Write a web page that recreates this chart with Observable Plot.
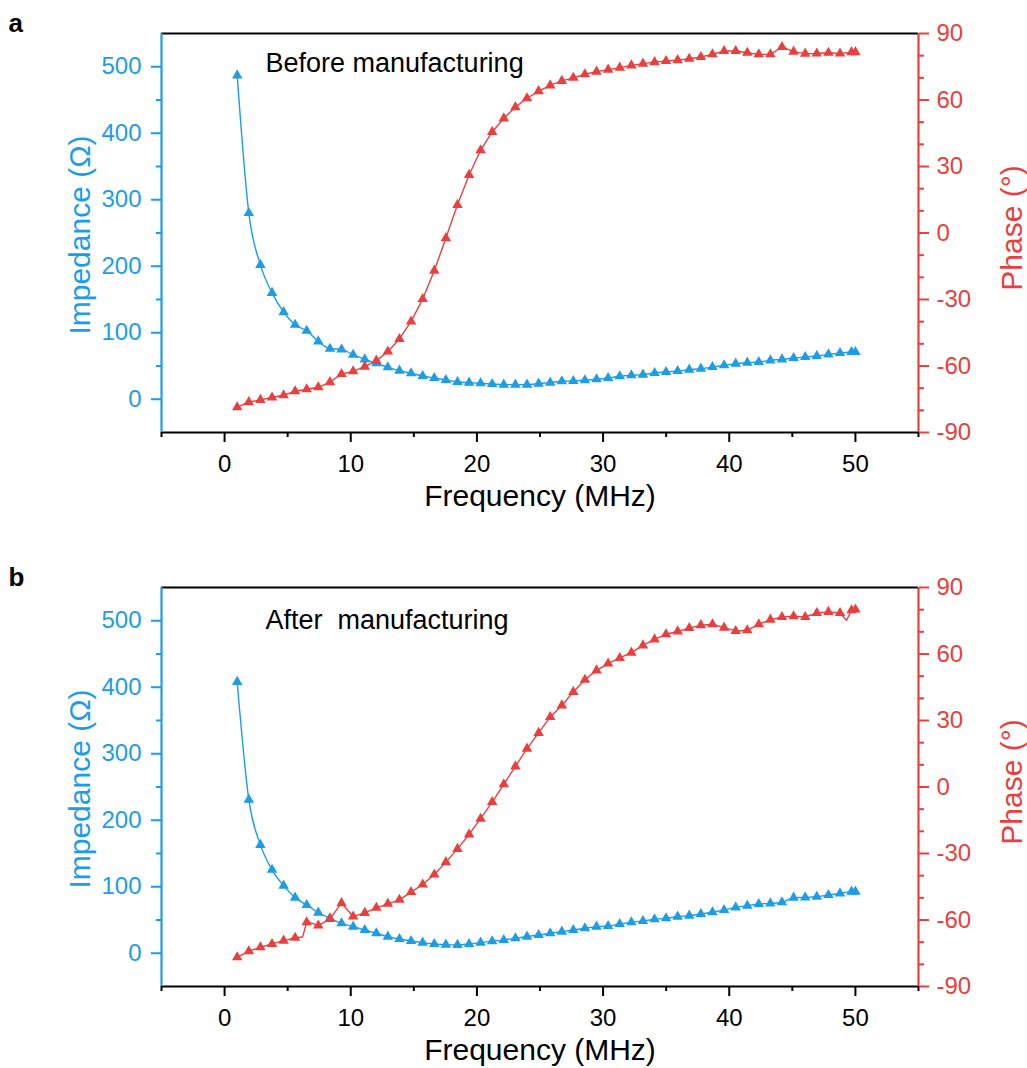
<!DOCTYPE html>
<html>
<head>
<meta charset="utf-8">
<script src="https://cdn.jsdelivr.net/npm/d3@7"></script>
<script src="https://cdn.jsdelivr.net/npm/@observablehq/plot@0.6"></script>
<style>
  html, body { margin: 0; padding: 0; background: #fff; }
  #chart svg { display: block; }
</style>
</head>
<body>
<div id="chart"></div>
<script>
// Sweep frequencies at the plotted markers (MHz)
const frequency = [1.00, 1.92, 2.84, 3.76, 4.68, 5.59, 6.51, 7.43, 8.35, 9.27,
  10.19, 11.11, 12.03, 12.94, 13.86, 14.78, 15.70, 16.62, 17.54, 18.46,
  19.38, 20.29, 21.21, 22.13, 23.05, 23.97, 24.89, 25.81, 26.73, 27.64,
  28.56, 29.48, 30.40, 31.32, 32.24, 33.16, 34.08, 34.99, 35.91, 36.83,
  37.75, 38.67, 39.59, 40.51, 41.43, 42.34, 43.26, 44.18, 45.10, 46.02,
  46.94, 47.86, 48.78, 49.69, 50.00];

// (a) before manufacturing
const impedanceBefore = [487, 280, 202, 160, 131, 112, 103, 87, 76, 75,
  67, 60, 54, 48, 43, 39, 35, 32, 29, 26,
  25, 24, 23, 22, 22, 22, 23.5, 25, 27, 27.5,
  28.5, 30, 32, 34.5, 36, 37, 39.5, 41, 42.5, 44.5,
  46, 48.5, 51, 53.5, 55, 56, 58.5, 60, 62, 63.5,
  65, 67.5, 69.5, 71, 71];
const phaseBefore = [-78.6, -76.3, -75.3, -74.2, -73.2, -71.4, -70.5, -69.6, -67.3, -63.6,
  -62.4, -60.3, -57.6, -53.5, -47.8, -39.9, -29.8, -17.0, -2.3, 12.7,
  26.2, 37.3, 45.6, 51.7, 56.8, 60.8, 64.0, 66.6, 68.6, 70.0,
  71.6, 72.8, 73.7, 74.6, 75.6, 76.4, 77.1, 77.6, 78.0, 78.6,
  79.4, 80.6, 82.1, 82.1, 81.3, 80.6, 80.6, 83.9, 81.8, 80.9,
  81.0, 81.3, 81.0, 81.6, 81.6];

// (b) after manufacturing
const impedanceAfter = [408, 231, 163, 125.5, 101.7, 83.6, 72.6, 61, 52.6, 45,
  40, 35, 30, 25, 21.5, 18.5, 16, 14, 13, 12.5,
  14, 16, 18, 20, 22.5, 25, 27.5, 30, 32.5, 35,
  37.5, 40, 41, 44, 46.5, 48.5, 51, 52.5, 55, 56.5,
  59, 61.6, 65, 69, 71.6, 74, 75, 76.6, 83.6, 84,
  85, 87.6, 90, 92.6, 92.6];
const phaseAfter = [-76.8, -74.1, -72.3, -70.8, -69.3, -68.0, -61.0, -62.5, -59.5, -52.4,
  -58.4, -56.8, -54.5, -52.7, -50.9, -47.4, -44.0, -39.5, -33.9, -27.9,
  -21.4, -14.3, -6.8, 1.2, 9.3, 17.3, 24.4, 31.6, 36.8, 42.9,
  48.4, 52.6, 55.7, 58.2, 60.6, 63.9, 66.6, 68.9, 70.2, 71.7,
  73.0, 73.4, 71.9, 70.4, 70.7, 73.4, 75.5, 76.7, 77.0, 76.7,
  78.5, 79.0, 78.5, 79.7, 80.1];
// sweep samples between markers where the phase trace steps or dips
const phaseAfterExtraFreq = [6.18, 6.90, 49.30];
const phaseAfterExtra = [-67.7, -61.4, 75.2];

// Axis ticks
const frequencyTicks = [0, 10, 20, 30, 40, 50];
const frequencyMinor = [-5, 5, 15, 25, 35, 45, 55];
const impedanceTicks = [0, 100, 200, 300, 400, 500];
const impedanceMinor = [50, 150, 250, 350, 450];
const phaseTicks = [-90, -60, -30, 0, 30, 60, 90];
const phaseMinor = [-80, -70, -50, -40, -20, -10, 10, 20, 40, 50, 70, 80];

const BLUE = "#1d9de5";
const RED = "#e8403e";
const FONT = "'Liberation Sans', Arial, Helvetica, sans-serif";

const zDomain = [-50, 550];
const pDomain = [-90, 90];
// the phase shares the plot's y scale through a linear map onto the impedance range
const phaseToZ = p => zDomain[0] + (p - pDomain[0]) / (pDomain[1] - pDomain[0]) * (zDomain[1] - zDomain[0]);
const zToPhase = z => pDomain[0] + (z - zDomain[0]) / (zDomain[1] - zDomain[0]) * (pDomain[1] - pDomain[0]);

function panel({impedance, phase, extraF = [], extraP = [], note, noteDy, letter, height, marginTop, marginBottom}) {
  const zRows = frequency.map((f, i) => ({f, v: impedance[i]}));
  const pRows = frequency.map((f, i) => ({f, v: phaseToZ(phase[i])}));
  const pLine = pRows.concat(extraF.map((f, i) => ({f, v: phaseToZ(extraP[i])})))
    .sort((a, b) => a.f - b.f);

  return Plot.plot({
    width: 1027,
    height,
    marginLeft: 161,
    marginRight: 109,
    marginTop,
    marginBottom,
    style: {fontFamily: FONT, fontSize: "24px", color: "black", background: "white", overflow: "visible"},
    x: {domain: [-5, 55], label: null},
    y: {domain: zDomain, label: null},
    marks: [
      // impedance trace
      Plot.line(zRows, {x: "f", y: "v", stroke: BLUE, strokeWidth: 1.4, curve: "monotone-x"}),
      Plot.dot(zRows, {x: "f", y: "v", symbol: "triangle", fill: BLUE, r: 3.9}),
      // phase trace
      Plot.line(pLine, {x: "f", y: "v", stroke: RED, strokeWidth: 1.4}),
      Plot.dot(pRows, {x: "f", y: "v", symbol: "triangle", fill: RED, r: 3.9}),

      // frame: black top and bottom, coloured side axes
      Plot.ruleY([zDomain[1]], {stroke: "black", strokeWidth: 2}),
      Plot.ruleY([zDomain[0]], {stroke: "black", strokeWidth: 2}),
      Plot.ruleX([-5], {stroke: BLUE, strokeWidth: 2.2}),
      Plot.ruleX([55], {stroke: RED, strokeWidth: 2.2}),

      // bottom axis
      Plot.axisX(frequencyTicks, {anchor: "bottom", tickSize: 10, tickPadding: 12, strokeWidth: 2, fontSize: 24, label: null}),
      Plot.axisX(frequencyMinor, {anchor: "bottom", tickSize: 5, strokeWidth: 2, tickFormat: () => "", label: null}),

      // left axis: impedance
      Plot.axisY(impedanceTicks, {anchor: "left", color: BLUE, tickSize: 10, tickPadding: 10, strokeWidth: 2, fontSize: 24, label: null}),
      Plot.axisY(impedanceMinor, {anchor: "left", color: BLUE, tickSize: 5, strokeWidth: 2, tickFormat: () => "", label: null}),

      // right axis: phase
      Plot.axisY(phaseTicks.map(phaseToZ), {anchor: "right", color: RED, tickSize: 10, tickPadding: 8, strokeWidth: 2, fontSize: 24,
        tickFormat: z => String(Math.round(zToPhase(z))), label: null}),
      Plot.axisY(phaseMinor.map(phaseToZ), {anchor: "right", color: RED, tickSize: 5, strokeWidth: 2, tickFormat: () => "", label: null}),

      // axis titles
      Plot.text(["Frequency (MHz)"], {text: d => d, frameAnchor: "bottom", textAnchor: "middle", lineAnchor: "middle",
        dy: 64, fontSize: 30, fill: "black"}),
      Plot.text(["Impedance (Ω)"], {text: d => d, frameAnchor: "left", textAnchor: "middle", lineAnchor: "middle",
        dx: -81, dy: 2, rotate: -90, fontSize: 30, fill: BLUE}),
      Plot.text(["Phase (°)"], {text: d => d, frameAnchor: "right", textAnchor: "middle", lineAnchor: "middle",
        dx: 94, dy: -5, rotate: -90, fontSize: 30, fill: RED}),

      // panel note and letter
      Plot.text([note], {text: d => d, frameAnchor: "top-left", textAnchor: "start", lineAnchor: "top",
        dx: 104, dy: noteDy, fontSize: 27, fill: "black"}),
      Plot.text([letter], {text: d => d, frameAnchor: "top-left", textAnchor: "start", lineAnchor: "top",
        dx: -153, dy: -20, fontSize: 26, fontWeight: "bold", fill: "black"})
    ]
  });
}

const root = document.getElementById("chart");
root.append(panel({
  impedance: impedanceBefore, phase: phaseBefore,
  note: "Before manufacturing", noteDy: 19, letter: "a",
  height: 555, marginTop: 33, marginBottom: 123
}));
root.append(panel({
  impedance: impedanceAfter, phase: phaseAfter,
  extraF: phaseAfterExtraFreq, extraP: phaseAfterExtra,
  note: "After  manufacturing", noteDy: 22, letter: "b",
  height: 513, marginTop: 32, marginBottom: 82
}));
</script>
</body>
</html>
